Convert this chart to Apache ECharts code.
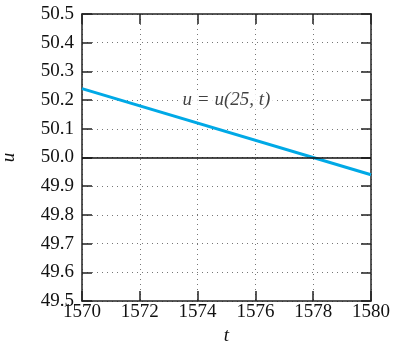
<!DOCTYPE html>
<html><head><meta charset="utf-8">
<script src="https://cdn.jsdelivr.net/npm/echarts@6/dist/echarts.min.js"></script>
<style>html,body{margin:0;padding:0;background:#fff}#c{width:402px;height:348px}</style>
</head><body><div id="c"></div>
<script>
var tValues = [1570, 1580];
var uValues = [50.24, 49.94];
var refLineValue = 50.0;
var curveLabel = 'u = u(25, t)';
var curveLabelPos = [1575, 50.2];
var xTickLabels = ['1570','1572','1574','1576','1578','1580'];
var yTickLabels = ['49.5','49.6','49.7','49.8','49.9','50.0','50.1','50.2','50.3','50.4','50.5'];

var font = 'Liberation Serif';
var txt = '#111';
var chart = echarts.init(document.getElementById('c'), null, {renderer:'canvas'});
var axisLineStyle = {color:'#222', width:1.5};
var gridLine = {show:true, lineStyle:{color:'#777', type:[1,4], width:1}};
chart.setOption({
  animation:false,
  grid:{left:82, top:14, width:289, height:287, outerBoundsMode:'none', containLabel:false},
  xAxis:[{
    type:'value', min:1570, max:1580, interval:2, position:'bottom',
    name:'t', nameLocation:'middle', nameGap:20,
    nameTextStyle:{fontFamily:font, fontStyle:'italic', fontSize:19, color:txt},
    axisLine:{show:true, lineStyle:axisLineStyle},
    axisTick:{show:true, inside:true, length:10, lineStyle:axisLineStyle},
    axisLabel:{fontFamily:font, fontSize:19, color:txt, margin:2,
      formatter:function(v){var i=xTickLabels.indexOf(String(Math.round(v)));return i>=0?xTickLabels[i]:'';}},
    splitLine:gridLine
  },{
    type:'value', min:1570, max:1580, interval:2, position:'top',
    axisLine:{show:true, lineStyle:axisLineStyle},
    axisTick:{show:true, inside:true, length:10, lineStyle:axisLineStyle},
    axisLabel:{show:false}, splitLine:{show:false}
  }],
  yAxis:[{
    type:'value', min:49.5, max:50.5, interval:0.1, position:'left',
    name:'u', nameLocation:'middle', nameGap:64, nameRotate:90,
    nameTextStyle:{fontFamily:font, fontStyle:'italic', fontSize:19, color:txt},
    axisLine:{show:true, lineStyle:axisLineStyle},
    axisTick:{show:true, inside:true, length:10, lineStyle:axisLineStyle},
    axisLabel:{fontFamily:font, fontSize:19, color:txt, margin:8,
      formatter:function(v){return v.toFixed(1);}},
    splitLine:gridLine
  },{
    type:'value', min:49.5, max:50.5, interval:0.1, position:'right',
    axisLine:{show:true, lineStyle:axisLineStyle},
    axisTick:{show:true, inside:true, length:10, lineStyle:axisLineStyle},
    axisLabel:{show:false}, splitLine:{show:false}
  }],
  series:[{
    type:'line', data:tValues.map(function(t,i){return [t,uValues[i]];}),
    showSymbol:false, lineStyle:{color:'#00a9e6', width:3}, z:3,
    markLine:{silent:true, symbol:'none', label:{show:false},
      lineStyle:{color:'#111', width:1.5, type:'solid'},
      data:[{yAxis:refLineValue}]}
  },{
    type:'scatter', data:[curveLabelPos], symbolSize:0, z:5,
    label:{show:true, position:'inside', formatter:curveLabel,
      fontFamily:font, fontStyle:'italic', fontSize:19, color:txt,
      backgroundColor:'#fff', padding:[0,4]}
  }]
});
</script></body></html>
